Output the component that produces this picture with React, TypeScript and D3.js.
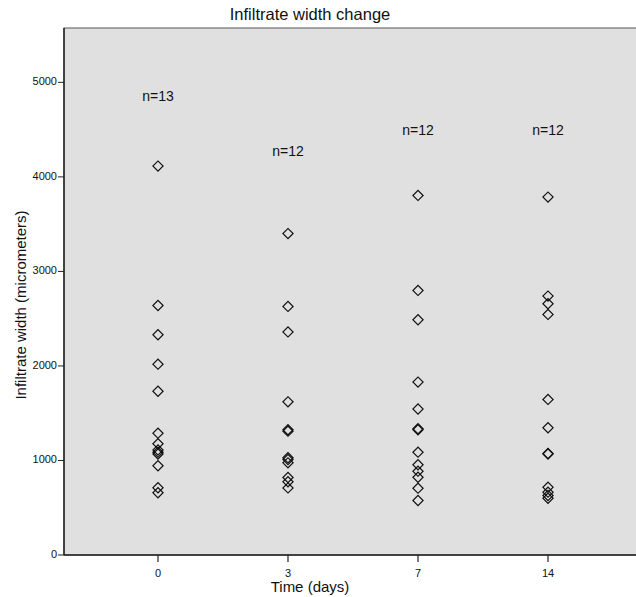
import React from "react";
import * as d3 from "d3";

const categories = ["0", "3", "7", "14"];
const day0 = [4114, 2640, 2330, 2019, 1733, 1289, 1177, 1110, 1088, 1068, 944, 711, 658];
const day3 = [3400, 2630, 2360, 1620, 1325, 1310, 1030, 1010, 975, 820, 775, 710];
const day7 = [3804, 2799, 2489, 1829, 1545, 1335, 1325, 1088, 954, 887, 823, 707, 577];
const day14 = [3786, 2739, 2658, 2545, 1646, 1346, 1075, 1068, 718, 665, 630, 600];
const seriesByCategory = [day0, day3, day7, day14];
const nLabels = ["n=13", "n=12", "n=12", "n=12"];
const nLabelValues = [4840, 4260, 4480, 4480];
const yTicks = [0, 1000, 2000, 3000, 4000, 5000];

const W = 636;
const H = 597;
const left = 64;
const top = 28;
const bottom = 555;
const right = 642;

export default function App() {
  const x = d3.scalePoint<string>().domain(categories).range([left, right]).padding(0.723);
  const y = d3.scaleLinear().domain([0, 5575]).range([bottom, top]);
  const diamond = d3.symbol().type(d3.symbolSquare).size(52)() as string;
  const font = "'Liberation Sans', Arial, sans-serif";

  return (
    <svg width={W} height={H} style={{ position: "absolute", left: 0, top: 0 }} fontFamily={font}>
      <rect x={0} y={0} width={W} height={H} fill="#ffffff" />
      <rect x={left} y={top} width={right - left} height={bottom - top} fill="#e0e0e0" stroke="#555" strokeWidth={1} />
      <text x={310} y={20} textAnchor="middle" fontSize={16.5} fill="#111">Infiltrate width change</text>

      {seriesByCategory.map((vals, i) =>
        vals.map((v, j) => (
          <path
            key={`${i}-${j}`}
            d={diamond}
            transform={`translate(${x(categories[i])},${y(v)}) rotate(45)`}
            fill="none"
            stroke="#111"
            strokeWidth={1.2}
          />
        ))
      )}

      {nLabels.map((t, i) => (
        <text key={t + i} x={x(categories[i])} y={y(nLabelValues[i])} textAnchor="middle" dominantBaseline="middle" fontSize={14} fill="#111">
          {t}
        </text>
      ))}

      <line x1={left} x2={left} y1={top} y2={bottom} stroke="#222" strokeWidth={1.5} />
      {yTicks.map((t) => (
        <g key={t}>
          <line x1={left - 6} x2={left} y1={y(t)} y2={y(t)} stroke="#222" strokeWidth={1} />
          <text x={left - 7} y={y(t)} textAnchor="end" dominantBaseline="middle" fontSize={11} fill="#111">
            {t}
          </text>
        </g>
      ))}
      <text transform={`translate(22,${305}) rotate(-90)`} textAnchor="middle" dominantBaseline="middle" fontSize={15} fill="#111">
        Infiltrate width (micrometers)
      </text>

      <line x1={left} x2={right} y1={bottom} y2={bottom} stroke="#222" strokeWidth={1.5} />
      {categories.map((c) => (
        <g key={c}>
          <line x1={x(c)} x2={x(c)} y1={bottom} y2={bottom + 7} stroke="#222" strokeWidth={1.2} />
          <text x={x(c)} y={bottom + 19} textAnchor="middle" dominantBaseline="middle" fontSize={11} fill="#111">
            {c}
          </text>
        </g>
      ))}
      <text x={310} y={588} textAnchor="middle" dominantBaseline="middle" fontSize={15} fill="#111">Time (days)</text>
    </svg>
  );
}
